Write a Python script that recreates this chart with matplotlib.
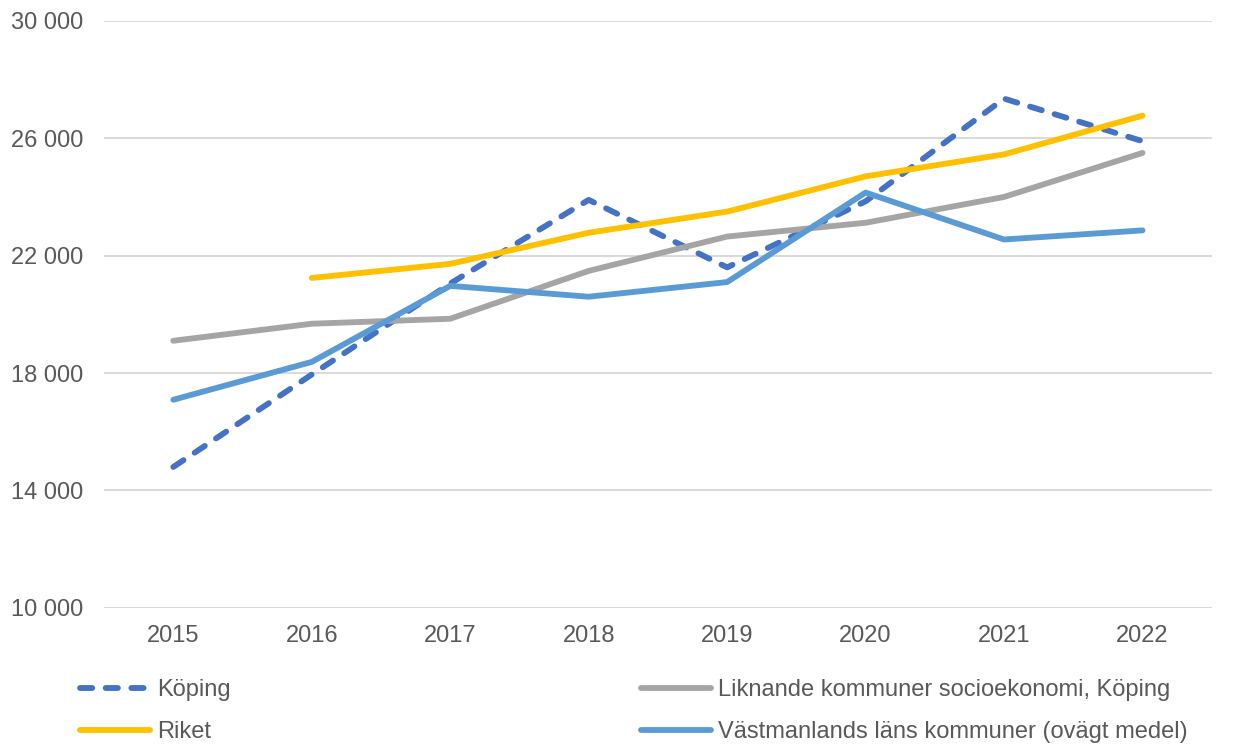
import matplotlib
matplotlib.use("Agg")
import matplotlib.pyplot as plt
import numpy as np

plt.rcParams['font.family'] = ['Liberation Sans', 'DejaVu Sans']

# Data
years = ['2015', '2016', '2017', '2018', '2019', '2020', '2021', '2022']
koping = [14800, 17950, 21050, 23900, 21600, 23850, 27350, 25900]
liknande = [19100, 19680, 19850, 21480, 22650, 23120, 24000, 25500]
riket = [np.nan, 21240, 21720, 22780, 23500, 24700, 25450, 26770]
vastmanland = [17090, 18380, 20970, 20600, 21100, 24150, 22550, 22860]

yticks = [10000, 14000, 18000, 22000, 26000, 30000]

fig = plt.figure(figsize=(12.39, 7.44), dpi=100)
ax = fig.add_axes([0.084, 0.183, 0.894, 0.789])

x = np.arange(len(years))
lw = 4.2
l1, = ax.plot(x, koping, color='#4472C4', lw=lw, dashes=(2.1, 2.3),
              dash_capstyle='round', label='Köping', zorder=3)
l2, = ax.plot(x, liknande, color='#A5A5A5', lw=lw, solid_capstyle='round',
              label='Liknande kommuner socioekonomi, Köping', zorder=3)
l3, = ax.plot(x, riket, color='#FFC000', lw=lw, solid_capstyle='round',
              label='Riket', zorder=3)
l4, = ax.plot(x, vastmanland, color='#5B9BD5', lw=lw, solid_capstyle='round',
              label='Västmanlands läns kommuner (ovägt medel)', zorder=4)

ax.set_xlim(-0.5, len(years) - 0.5)
ax.set_ylim(10000, 30000)
ax.set_yticks(yticks)
ax.set_yticklabels([f"{v:,}".replace(',', ' ') for v in yticks])
ax.set_xticks(x)
ax.set_xticklabels(years)
ax.grid(axis='y', color='#D9D9D9', lw=1.4)
ax.set_axisbelow(True)
for s in ax.spines.values():
    s.set_visible(False)
ax.tick_params(length=0, labelsize=17, colors='#595959')
ax.tick_params(axis='y', pad=15)
ax.tick_params(axis='x', pad=12)

fig.legend(handles=[l1, l3, l2, l4], ncol=2, loc='upper left',
           bbox_to_anchor=(0.0646, 0.0872), frameon=False, fontsize=17,
           handlelength=2.95, handletextpad=0.3, columnspacing=17.4,
           labelspacing=0.86, labelcolor='#595959', borderpad=0,
           borderaxespad=0)

fig.savefig('out.png', dpi=100)
